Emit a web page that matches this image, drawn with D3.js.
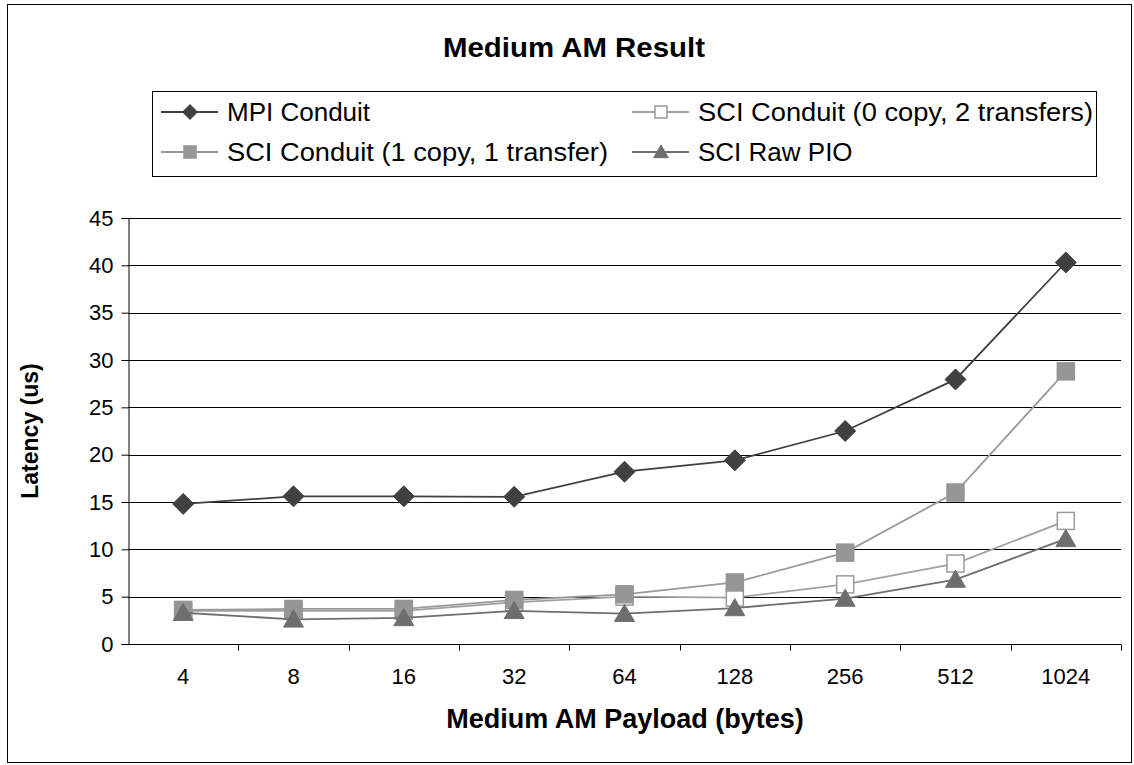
<!DOCTYPE html>
<html>
<head>
<meta charset="utf-8">
<script src="https://cdn.jsdelivr.net/npm/d3@7"></script>
<style>
  html, body { margin: 0; padding: 0; background: #fff; }
  svg { display: block; }
  text { font-family: "Liberation Sans", Arial, sans-serif; fill: #000; }
</style>
</head>
<body>
<svg id="chart" width="1134" height="765"></svg>
<script>
const categories = ["4", "8", "16", "32", "64", "128", "256", "512", "1024"];
const mpiConduit   = [14.8, 15.6, 15.6, 15.55, 18.2, 19.4, 22.5, 27.95, 40.3];
const sciZeroCopy  = [3.5, 3.5, 3.5, 4.4, 5.0, 4.9, 6.3, 8.5, 13.0];
const sciOneCopy   = [3.6, 3.7, 3.7, 4.65, 5.25, 6.5, 9.65, 16.0, 28.8];
const sciRawPIO    = [3.3, 2.6, 2.75, 3.5, 3.2, 3.8, 4.8, 6.8, 11.1];
const seriesNames  = ["MPI Conduit", "SCI Conduit (0 copy, 2 transfers)", "SCI Conduit (1 copy, 1 transfer)", "SCI Raw PIO"];
const yTicks = [0, 5, 10, 15, 20, 25, 30, 35, 40, 45];

const series = [
  { name: seriesNames[0], values: mpiConduit,  stroke: "#404040", fill: "#404040", mstroke: "#404040", shape: "diamond" },
  { name: seriesNames[1], values: sciZeroCopy, stroke: "#a0a0a0", fill: "#ffffff", mstroke: "#9a9a9a", shape: "square" },
  { name: seriesNames[2], values: sciOneCopy,  stroke: "#999999", fill: "#969696", mstroke: "#969696", shape: "square" },
  { name: seriesNames[3], values: sciRawPIO,   stroke: "#6e6e6e", fill: "#6e6e6e", mstroke: "#6e6e6e", shape: "triangle" }
];

const svg = d3.select("#chart");

// outer border
svg.append("rect").attr("x", 7.5).attr("y", 4.5).attr("width", 1124).attr("height", 758)
  .attr("fill", "none").attr("stroke", "#000").attr("stroke-width", 1);

const plot = { left: 128, right: 1121, top: 218, bottom: 644 };
const x = d3.scaleBand().domain(categories).range([plot.left, plot.right]).padding(0);
const y = d3.scaleLinear().domain([0, 45]).range([plot.bottom, plot.top]);

// gridlines
svg.append("g").selectAll("line").data(yTicks.filter(d => d > 0)).join("line")
  .attr("x1", plot.left).attr("x2", plot.right)
  .attr("y1", d => Math.round(y(d)) + 0.5).attr("y2", d => Math.round(y(d)) + 0.5)
  .attr("stroke", "#000").attr("stroke-width", 1);

// y axis
const yAxis = svg.append("g").attr("transform", `translate(${plot.left + 0.5},0)`)
  .call(d3.axisLeft(y).tickValues(yTicks).tickSize(7).tickPadding(8).tickFormat(d3.format("d")));
yAxis.select(".domain").attr("stroke", "#000");
yAxis.selectAll(".tick line").attr("stroke", "#000");
yAxis.selectAll("text").style("font-size", "22px").attr("fill", "#000")
  .style("font-family", "'Liberation Sans', Arial, sans-serif");

// x axis
const xAxis = svg.append("g").attr("transform", `translate(0,${plot.bottom + 0.5})`)
  .call(d3.axisBottom(x).tickSize(0).tickPadding(24));
xAxis.select(".domain").attr("stroke", "#000").attr("d", `M${plot.left},0H${plot.right}`);
xAxis.selectAll("text").style("font-size", "22px").attr("fill", "#000")
  .style("font-family", "'Liberation Sans', Arial, sans-serif");
// category boundary ticks
xAxis.append("g").selectAll("line").data(categories).join("line")
  .attr("x1", d => Math.round(x(d) + x.bandwidth()) + 0.5)
  .attr("x2", d => Math.round(x(d) + x.bandwidth()) + 0.5)
  .attr("y1", 0).attr("y2", 6).attr("stroke", "#000");

// marker helper
function drawMarker(g, shape, cx, cy, size, fill, stroke) {
  if (shape === "diamond") {
    const r = size / 2;
    g.append("path").attr("d", `M${cx},${cy - r}L${cx + r},${cy}L${cx},${cy + r}L${cx - r},${cy}Z`)
      .attr("fill", fill).attr("stroke", stroke).attr("stroke-width", 1);
  } else if (shape === "square") {
    const r = size / 2;
    g.append("rect").attr("x", cx - r).attr("y", cy - r).attr("width", size).attr("height", size)
      .attr("fill", fill).attr("stroke", stroke).attr("stroke-width", 1.5);
  } else {
    const w = size * 1.05, h = size * 0.9;
    g.append("path").attr("d", `M${cx},${cy - h * 0.55}L${cx + w / 2},${cy + h * 0.45}L${cx - w / 2},${cy + h * 0.45}Z`)
      .attr("fill", fill).attr("stroke", stroke).attr("stroke-width", 1);
  }
}

const line = d3.line().x((d, i) => x(categories[i]) + x.bandwidth() / 2).y(d => y(d));
const sizes = { diamond: 21, square: 17, triangle: 19 };

series.forEach(s => {
  const g = svg.append("g");
  g.append("path").datum(s.values).attr("d", line)
    .attr("fill", "none").attr("stroke", s.stroke).attr("stroke-width", 1.8);
  s.values.forEach((v, i) => {
    drawMarker(g, s.shape, x(categories[i]) + x.bandwidth() / 2, y(v), sizes[s.shape], s.fill, s.mstroke);
  });
});

// legend
const legend = svg.append("g");
legend.append("rect").attr("x", 152.5).attr("y", 91.5).attr("width", 944).attr("height", 85)
  .attr("fill", "#fff").attr("stroke", "#000").attr("stroke-width", 1);
const legPos = [
  { lx: 161, ty: 112, w: null }, { lx: 632, ty: 112, w: 395 }, { lx: 161, ty: 152, w: 381 }, { lx: 632, ty: 152, w: null }
];
const legSizes = { diamond: 15, square: 12, triangle: 14 };
series.forEach((s, i) => {
  const p = legPos[i];
  legend.append("line").attr("x1", p.lx).attr("x2", p.lx + 57).attr("y1", p.ty).attr("y2", p.ty)
    .attr("stroke", s.stroke).attr("stroke-width", 1.8);
  drawMarker(legend, s.shape, p.lx + 29, p.ty, legSizes[s.shape], s.fill, s.mstroke);
  const t = legend.append("text").attr("x", p.lx + 66).attr("y", p.ty).attr("dy", "0.36em")
    .style("font-size", "26px").text(s.name);
  if (p.w) t.attr("textLength", p.w).attr("lengthAdjust", "spacingAndGlyphs");
});

// title
svg.append("text").attr("x", 574).attr("y", 47).attr("text-anchor", "middle").attr("dy", "0.36em")
  .attr("textLength", 262).attr("lengthAdjust", "spacingAndGlyphs")
  .style("font-size", "27px").style("font-weight", "bold").text("Medium AM Result");

// axis titles
svg.append("text").attr("x", 625).attr("y", 718).attr("text-anchor", "middle").attr("dy", "0.36em")
  .style("font-size", "27px").style("font-weight", "bold").text("Medium AM Payload (bytes)");
svg.append("text").attr("transform", "translate(30,431) rotate(-90)").attr("text-anchor", "middle").attr("dy", "0.36em")
  .style("font-size", "23px").style("font-weight", "bold").text("Latency (us)");
</script>
</body>
</html>
